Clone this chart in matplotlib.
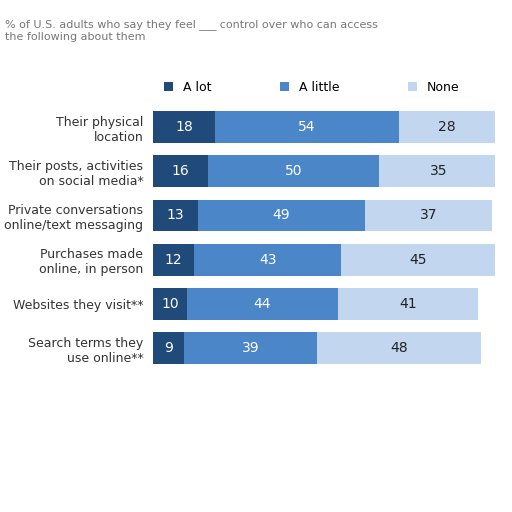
import matplotlib
matplotlib.use("Agg")
import matplotlib.pyplot as plt

categories = ["Their physical\nlocation", "Their posts, activities\non social media*",
              "Private conversations\nonline/text messaging", "Purchases made\nonline, in person",
              "Websites they visit**", "Search terms they\nuse online**"]
a_lot = [18, 16, 13, 12, 10, 9]
a_little = [54, 50, 49, 43, 44, 39]
none = [28, 35, 37, 45, 41, 48]
series_names = ["A lot", "A little", "None"]
colors = ["#1f4a7a", "#4a86c8", "#c2d6ef"]
text_colors = ["white", "white", "#222222"]

fig = plt.figure(figsize=(5.12, 5.12), dpi=100)
fig.text(0.01, 0.94, "% of U.S. adults who say they feel ___ control over who can access\nthe following about them",
         fontsize=8, color="#777777", va="center")
ax = fig.add_axes([0.299, 0.277, 0.668, 0.518])

y = list(range(len(categories)))
left = [0] * len(categories)
for vals, name, c, tc in zip([a_lot, a_little, none], series_names, colors, text_colors):
    ax.barh(y, vals, left=left, color=c, height=0.72, label=name)
    for yi, v, l in zip(y, vals, left):
        ax.text(l + v / 2, yi, str(v), ha="center", va="center", color=tc, fontsize=10)
    left = [l + v for l, v in zip(left, vals)]

ax.set_xlim(0, 100)
ax.set_ylim(len(categories) - 0.5, -0.5)
ax.set_yticks(y)
ax.set_yticklabels(categories, fontsize=9, color="#333333")
ax.tick_params(left=False, bottom=False, labelbottom=False)
for s in ax.spines.values():
    s.set_visible(False)

ax.legend(ncol=3, loc="lower left", bbox_to_anchor=(0.0, 1.0), frameon=False,
          fontsize=9, handlelength=0.7, handleheight=0.7, columnspacing=5.5)

fig.savefig("out.png", dpi=100)
